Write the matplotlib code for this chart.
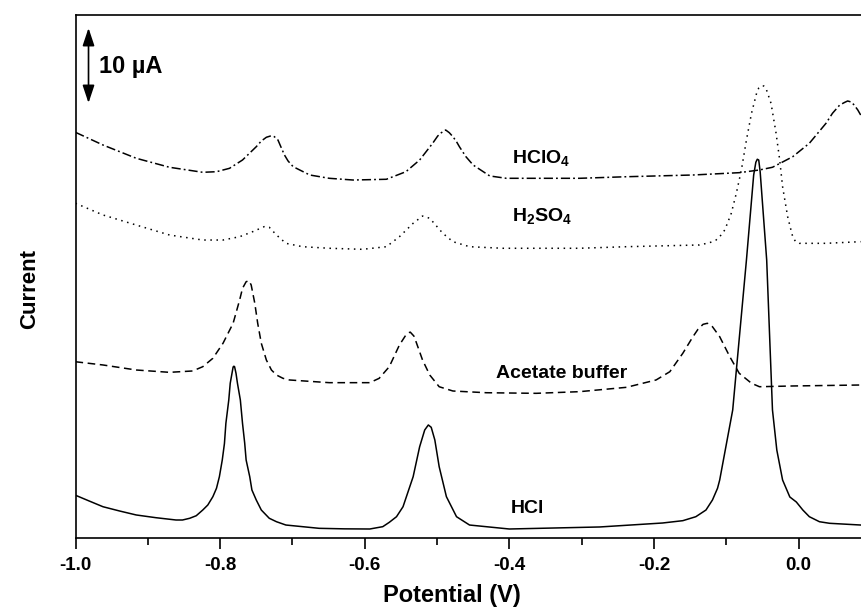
import numpy as np
import matplotlib
matplotlib.use("Agg")
import matplotlib.pyplot as plt
from matplotlib.ticker import MultipleLocator

plt.rcParams['font.family'] = 'Liberation Sans'
plt.rcParams['font.weight'] = 'bold'
plt.rcParams['mathtext.fontset'] = 'custom'
plt.rcParams['mathtext.rm'] = 'Liberation Sans:bold'
plt.rcParams['mathtext.it'] = 'Liberation Sans:bold'
plt.rcParams['mathtext.bf'] = 'Liberation Sans:bold'

# 1. DATA (potential in V, current in uA, traces offset)

hcl_potential = [-1.0, -0.981, -0.962, -0.939, -0.916, -0.889, -0.861, -0.852, -0.842, -0.833,
                 -0.824, -0.817, -0.810, -0.805, -0.801, -0.797, -0.794, -0.792, -0.788, -0.786,
                 -0.782, -0.781, -0.780, -0.778, -0.776, -0.772, -0.769, -0.766, -0.764, -0.759,
                 -0.756, -0.750, -0.743, -0.732, -0.722, -0.709, -0.686, -0.663, -0.628, -0.593,
                 -0.575, -0.566, -0.556, -0.547, -0.533, -0.524, -0.517, -0.512, -0.508, -0.503,
                 -0.497, -0.487, -0.473, -0.455, -0.400, -0.275, -0.188, -0.160, -0.142, -0.128,
                 -0.119, -0.112, -0.109, -0.091, -0.072, -0.062, -0.059, -0.057, -0.055, -0.053,
                 -0.044, -0.036, -0.030, -0.022, -0.012, -0.003, 0.006, 0.015, 0.029, 0.043, 0.086]
hcl_current = [5.7, 4.93, 4.17, 3.6, 3.07, 2.71, 2.4, 2.4, 2.63, 2.97,
               3.73, 4.4, 5.51, 6.63, 8.17, 10.4, 12.6, 15.29, 18.4, 20.63,
               22.8, 22.9, 22.85, 21.96, 20.63, 18.4, 15.29, 12.67, 10.4, 8.17,
               6.4, 5.07, 3.73, 2.63, 2.17, 1.73, 1.51, 1.29, 1.22, 1.2,
               1.51, 2.09, 2.84, 4.17, 8.17, 12.17, 14.4, 15.07, 14.76, 13.07,
               9.51, 5.51, 2.84, 1.73, 1.2, 1.47, 2.0, 2.31, 2.84, 3.73,
               5.07, 6.63, 7.73, 17.07, 37.07, 48.4, 50.1, 50.5, 50.4, 48.8,
               37.07, 17.07, 11.73, 7.73, 5.47, 4.8, 3.73, 2.84, 2.17, 1.96, 1.73]

acetate_potential = [-1.0, -0.962, -0.916, -0.870, -0.838, -0.824, -0.810, -0.796, -0.782, -0.773,
                     -0.769, -0.764, -0.760, -0.757, -0.752, -0.748, -0.743, -0.736, -0.729, -0.722,
                     -0.713, -0.704, -0.649, -0.593, -0.580, -0.566, -0.552, -0.543, -0.539, -0.537,
                     -0.532, -0.529, -0.520, -0.510, -0.497, -0.478, -0.432, -0.363, -0.303, -0.238,
                     -0.197, -0.178, -0.160, -0.146, -0.139, -0.132, -0.126, -0.119, -0.109, -0.095,
                     -0.082, -0.065, -0.054, -0.008, 0.086]
acetate_current = [23.5, 23.07, 22.4, 22.09, 22.27, 22.84, 23.96, 25.96, 28.63, 31.73,
                   33.29, 34.17, 34.31, 33.73, 31.29, 28.63, 25.96, 23.73, 22.4, 21.73,
                   21.29, 21.07, 20.71, 20.71, 21.29, 22.84, 25.73, 27.07, 27.37, 27.45,
                   26.93, 26.17, 23.73, 21.73, 20.17, 19.6, 19.37, 19.29, 19.51, 20.09,
                   21.07, 22.17, 24.63, 26.84, 27.83, 28.49, 28.63, 28.17, 26.84, 24.17,
                   21.96, 20.63, 20.17, 20.27, 20.4]

h2so4_potential = [-1.0, -0.962, -0.916, -0.870, -0.824, -0.796, -0.773, -0.755, -0.739, -0.732,
                   -0.722, -0.709, -0.686, -0.649, -0.603, -0.570, -0.552, -0.533, -0.520, -0.510,
                   -0.492, -0.478, -0.455, -0.409, -0.303, -0.238, -0.137, -0.123, -0.114, -0.107,
                   -0.102, -0.098, -0.093, -0.086, -0.079, -0.072, -0.065, -0.058, -0.055, -0.052,
                   -0.048, -0.045, -0.038, -0.031, -0.026, -0.022, -0.015, -0.011, -0.008, -0.004,
                   0.001, 0.038, 0.086]
h2so4_current = [44.63, 43.07, 41.73, 40.4, 39.73, 39.73, 40.17, 40.84, 41.51, 41.43,
                 40.4, 39.29, 38.84, 38.63, 38.49, 38.84, 40.17, 41.96, 42.93, 42.63,
                 40.63, 39.51, 38.84, 38.63, 38.63, 38.84, 39.07, 39.37, 39.73, 40.4,
                 41.07, 42.04, 43.29, 45.96, 49.07, 53.07, 56.63, 59.29, 60.0, 60.27,
                 60.27, 59.96, 57.96, 53.96, 50.4, 46.84, 42.84, 41.29, 40.17, 39.51,
                 39.29, 39.29, 39.51]

hclo4_potential = [-1.0, -0.962, -0.916, -0.870, -0.824, -0.805, -0.787, -0.769, -0.750, -0.743,
                   -0.736, -0.729, -0.725, -0.720, -0.716, -0.711, -0.706, -0.699, -0.676, -0.649,
                   -0.616, -0.570, -0.543, -0.524, -0.506, -0.499, -0.494, -0.488, -0.483, -0.478,
                   -0.473, -0.469, -0.460, -0.450, -0.427, -0.404, -0.303, -0.238, -0.146, -0.082,
                   -0.054, -0.036, -0.008, 0.015, 0.038, 0.047, 0.057, 0.064, 0.068, 0.073,
                   0.077, 0.082, 0.086]
hclo4_current = [54.09, 52.4, 50.63, 49.43, 48.76, 48.84, 49.29, 50.4, 52.17, 52.93,
                 53.43, 53.64, 53.51, 53.07, 52.17, 51.07, 50.27, 49.51, 48.4, 47.96,
                 47.73, 47.83, 48.84, 50.4, 52.63, 53.6, 54.04, 54.4, 54.04, 53.51,
                 52.84, 52.17, 50.84, 49.73, 48.27, 47.96, 47.96, 48.17, 48.4, 48.71,
                 49.07, 49.43, 50.84, 52.63, 55.29, 56.63, 57.73, 58.09, 58.27, 58.13,
                 57.73, 57.07, 56.4]

# 2. PLOT

fig = plt.figure(figsize=(8.61, 6.07), dpi=100)
ax = fig.add_axes([75.5 / 861, 69 / 607, (900 - 75.5) / 861, 523 / 607])

ax.plot(hcl_potential, hcl_current, color='black', lw=1.1, linestyle='-')
ax.plot(acetate_potential, acetate_current, color='black', lw=1.1, linestyle=(0, (5, 3)))
ax.plot(h2so4_potential, h2so4_current, color='black', lw=1.1, linestyle=(0, (1, 3)))
ax.plot(hclo4_potential, hclo4_current, color='black', lw=1.1, linestyle=(0, (6, 2, 1.2, 2)))

ax.text(-0.396, 49.96, 'HClO$_4$', fontsize=14, fontweight='bold', va='baseline')
ax.text(-0.396, 42.3, 'H$_2$SO$_4$', fontsize=14, fontweight='bold', va='baseline')
ax.text(-0.419, 21.29, 'Acetate buffer', fontsize=14, fontweight='bold', va='baseline')
ax.text(-0.398, 3.29, 'HCl', fontsize=14, fontweight='bold', va='baseline')

# scale bar
ax.annotate('', xy=(-0.982, 68), xytext=(-0.982, 58),
            arrowprops=dict(arrowstyle='<|-|>,head_length=0.9,head_width=0.3', color='black',
                            lw=1.2, mutation_scale=12, shrinkA=0, shrinkB=0))
ax.text(-0.968, 62.9, '10 \u00b5A', fontsize=17, fontweight='bold', va='center', ha='left')

ax.set_xlim(-1.0, -1.0 + (900 - 75.5) / 723)
ax.set_ylim(0, 523 / 7.5)
ax.xaxis.set_minor_locator(MultipleLocator(0.1))
ax.set_xticks([-1.0, -0.8, -0.6, -0.4, -0.2, 0.0])
ax.set_xticklabels(['-1.0', '-0.8', '-0.6', '-0.4', '-0.2', '0.0'])
ax.tick_params(axis='x', which='major', direction='out', length=8, width=1.2, labelsize=13.5, pad=6)
ax.tick_params(axis='x', which='minor', direction='out', length=5, width=1.2)
ax.set_yticks([])
for s in ax.spines.values():
    s.set_linewidth(1.2)

ax.set_xlabel('Potential (V)', fontsize=17, fontweight='bold')
ax.set_ylabel('Current', fontsize=16, fontweight='bold')
ax.xaxis.set_label_coords(0.4566, -0.088)
ax.yaxis.set_label_coords(-0.043, 0.477)

plt.savefig('out.png', dpi=100)
